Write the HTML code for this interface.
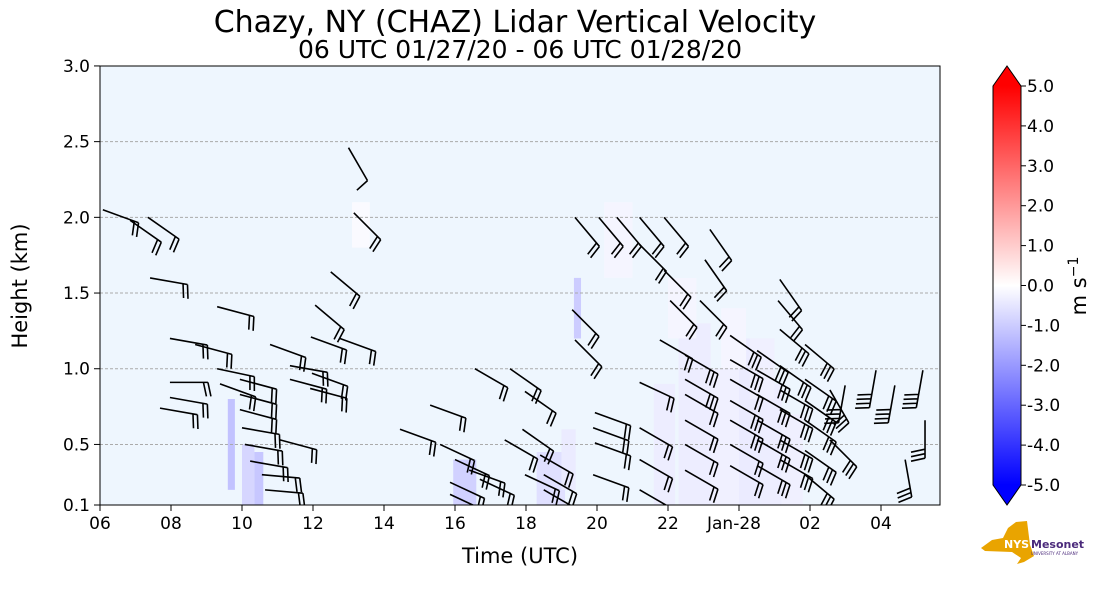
<!DOCTYPE html>
<html><head><meta charset="utf-8">
<style>
body{margin:0;background:#fff;}
svg text{font-family:"DejaVu Sans","Liberation Sans",sans-serif;}
</style></head>
<body>
<svg id="chart" width="1101" height="600" viewBox="0 0 1101 600" xmlns="http://www.w3.org/2000/svg">
<defs>
<linearGradient id="cbg" x1="0" y1="1" x2="0" y2="0">
<stop offset="0" stop-color="#0000ff"/><stop offset="0.5" stop-color="#ffffff"/><stop offset="1" stop-color="#ff0000"/>
</linearGradient>
<clipPath id="plotclip"><rect x="100" y="66" width="840" height="439"/></clipPath>
</defs>
<text x="515" y="32" font-size="30" text-anchor="middle">Chazy, NY (CHAZ) Lidar Vertical Velocity</text>
<text x="520" y="58" font-size="25" text-anchor="middle">06 UTC 01/27/20 - 06 UTC 01/28/20</text>
<rect x="100" y="66" width="840" height="439" fill="#eef6fe"/>
<g id="patches" clip-path="url(#plotclip)"></g>
<g id="grid"></g>
<g id="barbs" clip-path="url(#plotclip)"></g>
<rect x="100" y="66" width="840" height="439" fill="none" stroke="#000" stroke-width="1"/>
<g id="axes"></g>
<text transform="translate(27,286) rotate(-90)" font-size="21" text-anchor="middle">Height (km)</text>
<text x="520" y="563" font-size="21" text-anchor="middle">Time (UTC)</text>
<g>
<rect x="993" y="86" width="28" height="399" fill="url(#cbg)"/>
<polygon points="993,86 1021,86 1007,66" fill="#ff0000"/>
<polygon points="993,485 1021,485 1007,505" fill="#0000ff"/>
<polygon points="993,86 1007,66 1021,86 1021,485 1007,505 993,485" fill="none" stroke="#000" stroke-width="1"/>
<g id="cbticks"></g>
<text transform="translate(1086,286) rotate(-90)" font-size="21" text-anchor="middle">m s<tspan dy="-8" font-size="14">−1</tspan></text>
</g>
<g>
<path d="M981,548 L992,540 L1003,538 L1008,528 L1016,522 L1027,521 L1030,545 L1034,556 L1024,562 L1017,564 L1021,558 L1012,552 L985,551 Z" fill="#e9a400"/>
<text x="1004" y="548" font-size="11" font-weight="bold" fill="#fff">NYS</text>
<text x="1031" y="548" font-size="11" font-weight="bold" fill="#4b2a7b">Mesonet</text>
<text x="1031" y="555" font-size="4" fill="#4b2a7b">UNIVERSITY AT ALBANY</text>
</g>
</svg>
<script>
// ---- data ----
const yTicks = [0.1,0.5,1.0,1.5,2.0,2.5,3.0];
const xTickHours = [0,2,4,6,8,10,12,14,16,18,20,22];
const xTickLabels = ["06","08","10","12","14","16","18","20","22","Jan-28","02","04"];
const cbTicks = [5,4,3,2,1,0,-1,-2,-3,-4,-5];
const cbTickLabels = ["5.0","4.0","3.0","2.0","1.0","0.0","-1.0","-2.0","-3.0","-4.0","-5.0"];
// wind barbs: hours since 06 UTC, height km, staff angle (deg, screen), barb count
const barbT = [0.08,0.85,1.35,1.41,3.3,1.97,2.68,1.97,1.97,1.69,3.3,3.38,3.94,3.94,3.94,4.0,4.08,4.23,4.56,4.65,5.07,5.92,5.97,5.94,6.06,6.5,7.15,7.0,5.35,5.35,4.79,6.76,
9.3,8.45,9.58,10.0,10.4,9.86,9.86,10.7,10.56,11.55,11.97,11.9,12.4,12.5,12.5,11.4,11.97,13.3,13.38,13.38,14.05,14.56,15.2,15.89,15.2,15.89,16.06,15.77,15.2,13.94,13.89,13.94,13.89,15.2,15.2,15.2,
16.48,16.48,16.48,16.48,16.48,16.48,16.9,17.04,17.18,17.75,17.75,17.75,17.75,17.75,17.75,17.75,18.51,18.51,18.51,18.51,18.51,18.51,19.1,19.15,19.15,19.15,19.15,19.15,19.15,19.15,19.86,19.86,19.86,19.86,19.86,19.86,20.56,20.56,20.99,21.86,22.39,23.18,22.68,23.24];
const barbH = [2.05,1.98,2.0,1.6,1.41,1.2,1.16,0.91,0.81,0.74,1.0,0.9,0.93,0.83,0.73,0.61,0.5,0.39,0.3,0.2,0.53,0.87,0.97,1.21,1.42,1.64,2.03,2.46,1.02,0.93,1.16,1.2,
0.76,0.6,0.5,0.4,0.33,0.25,0.17,0.27,1.0,1.0,0.85,0.6,0.43,0.3,0.2,0.53,0.3,1.39,1.19,2.0,2.0,2.0,2.0,2.0,1.82,1.65,1.45,1.19,0.91,0.71,0.61,0.51,0.3,0.61,0.4,0.2,
1.09,0.93,0.83,0.66,0.5,0.33,1.45,1.72,1.92,1.22,1.06,0.93,0.79,0.66,0.5,0.36,1.12,0.99,0.83,0.66,0.53,0.36,1.45,1.59,1.26,1.02,0.86,0.73,0.53,0.4,1.16,0.93,0.79,0.66,0.46,0.3,0.86,0.53,0.89,0.99,0.89,0.99,0.4,0.66];
const barbAng = [20,35,35,10,15,10,15,0,10,10,12,20,15,15,15,10,10,10,5,5,15,15,20,20,40,40,45,60,10,15,20,20,
20,20,25,25,20,25,25,25,30,35,35,35,30,30,30,30,25,45,45,50,50,50,50,50,45,45,45,30,25,20,20,20,20,30,30,30,
30,30,30,30,30,30,45,55,55,35,30,30,30,30,30,30,35,30,30,30,30,30,50,55,40,35,30,30,30,30,40,35,35,35,35,40,60,45,100,100,100,100,80,90];
const barbN = [2,2,2,2,2,2,2,2,2,2,2,2,2,2,2,2,2,2,2,2,2,2,2,2,2,2,2,1,2,2,2,2,
2,2,2,2,2,2,2,2,2,2,2,2,2,2,2,2,2,2,2,2,2,2,2,2,2,2,2,2,2,2,2,2,2,2,2,2,
3,3,2,2,2,2,2,2,2,3,3,2,3,3,2,2,3,3,3,3,3,3,2,2,3,3,3,3,3,3,3,3,3,3,3,3,3,3,4,4,4,4,3,3];
// velocity patches (heatmap cells): start/end hour, bottom/top km, value m/s
const patchT0 = [3.6,4.0,4.35,9.95,12.3,13.0,13.35,15.6,16.3,17.2,18.0,18.6,19.2,16.0,17.5,18.3,14.2,7.1];
const patchT1 = [3.8,4.35,4.6,10.6,13.1,13.4,13.55,16.2,17.2,18.0,18.6,19.2,19.8,16.8,18.2,19.0,15.0,7.6];
const patchH0 = [0.2,0.1,0.1,0.1,0.1,0.2,1.2,0.1,0.1,0.1,0.1,0.1,0.1,1.2,1.0,0.8,1.6,1.8];
const patchH1 = [0.8,0.5,0.45,0.4,0.45,0.6,1.6,0.9,1.3,1.0,1.2,0.9,0.7,1.6,1.4,1.2,2.1,2.1];
const patchV = [-1.2,-0.8,-1.1,-0.9,-0.6,-0.4,-1.0,-0.35,-0.35,-0.3,-0.4,-0.35,-0.3,-0.2,-0.2,-0.3,-0.2,-0.1];
// ---- scales ----
const X = t => 100 + t*35.5;
const Y = h => 505 - (h-0.1)*151.4;
const CB = v => 285.5 - v*39.9;
const NS="http://www.w3.org/2000/svg";
function mk(tag,parent,attrs){const e=document.createElementNS(NS,tag);for(const k in attrs)e.setAttribute(k,attrs[k]);parent.appendChild(e);return e;}
function vcolor(v){const f=Math.min(1,Math.abs(v)/5);const c=Math.round(255*(1-f));return v<0?`rgb(${c},${c},255)`:`rgb(255,${c},${c})`;}
const gP=document.getElementById('patches');
for(let i=0;i<patchT0.length;i++){
 const r=mk('rect',gP,{x:X(patchT0[i]),y:Y(patchH1[i]),width:X(patchT1[i])-X(patchT0[i]),height:Y(patchH0[i])-Y(patchH1[i]),fill:vcolor(patchV[i])});
 
 
}
const gG=document.getElementById('grid'), gA=document.getElementById('axes');
yTicks.forEach((h,i)=>{
 if(i>0&&i<yTicks.length-1){const l=mk('line',gG,{x1:100,x2:940,y1:Y(h),y2:Y(h),stroke:'#aaa','stroke-dasharray':'3,2','stroke-width':1});
 
 }
 mk('line',gA,{x1:94,x2:100,y1:Y(h),y2:Y(h),stroke:'#000'});
 const t=mk('text',gA,{x:90,y:Y(h)+6,'font-size':17,'text-anchor':'end'});t.textContent=h.toFixed(1);
 
 
});
xTickHours.forEach((hr,i)=>{
 mk('line',gA,{x1:X(hr),x2:X(hr),y1:505,y2:511,stroke:'#000'});
 const t=mk('text',gA,{x:X(hr)-(i===9?5:0),y:529,'font-size':17,'text-anchor':'middle'});t.textContent=xTickLabels[i];
 
 
});
const gC=document.getElementById('cbticks');
cbTicks.forEach((v,i)=>{
 mk('line',gC,{x1:1021,x2:1026,y1:CB(v),y2:CB(v),stroke:'#000'});
 const t=mk('text',gC,{x:1027,y:CB(v)+6,'font-size':17});t.textContent=cbTickLabels[i];
 
 
});
const gB=document.getElementById('barbs');
for(let i=0;i<barbT.length;i++){
 const x0=X(barbT[i]),y0=Y(barbH[i]);const a=barbAng[i]*Math.PI/180;
 const dx=Math.cos(a),dy=Math.sin(a);const L=38;
 const x1=x0+dx*L,y1=y0+dy*L;
 const px=-dy,py=dx;
 let d=`M${x0},${y0}L${x1},${y1}`;
 for(let k=0;k<barbN[i];k++){
  const bx=x1-dx*k*4.5,by=y1-dy*k*4.5;
  d+=`M${bx},${by}L${bx+px*14+dx*3},${by+py*14+dy*3}`;
 }
 const p=mk('path',gB,{d:d,stroke:'#000','stroke-width':1.6,fill:'none'});
 
 
}
</script>
</body></html>
